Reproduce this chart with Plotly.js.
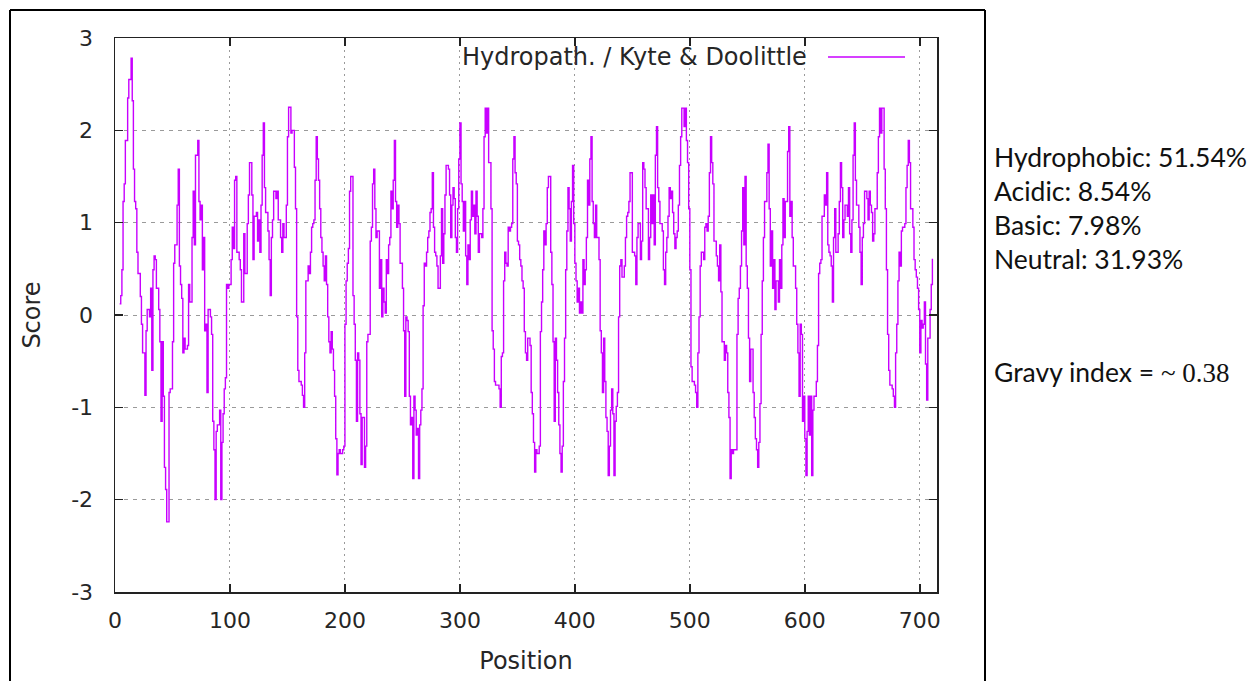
<!DOCTYPE html>
<html><head><meta charset="utf-8">
<script src="https://cdn.plot.ly/plotly-3.0.1.min.js"></script>
<style>html,body{margin:0;padding:0;background:#fff;}#chart{width:1250px;height:681px;}</style>
</head><body><div id="chart"></div>
<script>
// Residue positions and Kyte & Doolittle hydropathy scores
const position = [
4,5,6,7,8,9,11,12,14,15,16,17,18,19,20,22,23,24,26,27,28,30,31,32,33,34,35,36,38,39,40,41,42,43,44,45,47,48,50,51,52,54,55,56,57,58,59,60,61,63,64,65,67,68,69,70,72,73,74,75,76,77,78,
79,80,81,83,84,85,86,87,88,89,91,92,93,94,95,96,97,98,99,101,102,103,104,105,106,108,109,110,112,113,115,116,117,119,120,121,123,124,125,126,127,128,129,130,131,133,134,135,136,137,138,140,141,142,144,145,146,147,149,150,151,152,153,154,156,
157,158,159,160,162,163,164,165,166,168,169,170,171,172,173,174,175,176,177,178,179,180,181,182,183,184,185,186,187,188,189,190,191,192,193,194,195,196,198,199,200,201,202,203,204,205,207,208,209,210,211,212,213,214,215,217,218,219,220,222,223,224,225,226,227,228,230,231,
232,233,234,235,236,237,238,239,240,241,242,243,244,245,246,247,248,250,251,252,253,254,255,256,257,258,259,260,261,262,263,264,265,266,267,268,269,270,271,272,273,274,275,276,277,278,279,280,281,283,284,285,286,287,288,290,291,292,293,294,295,296,297,298,299,300,301,302,303,304,305,306,307,308,309,310,
311,312,313,314,315,316,317,319,320,321,322,323,324,325,327,328,329,330,331,333,334,335,336,337,338,339,340,341,342,343,344,345,346,347,348,349,350,351,352,353,354,355,356,357,358,359,361,362,363,364,365,366,367,368,369,370,371,372,373,374,375,376,377,379,380,381,382,383,384,385,386,387,388,389,390,391,
392,393,394,395,396,397,398,399,400,401,402,403,404,405,406,407,408,409,410,411,412,413,414,415,416,417,418,419,421,422,423,424,425,426,427,428,429,430,431,432,433,434,435,436,437,438,439,440,441,443,444,445,446,447,448,450,451,452,453,454,455,457,458,459,460,461,462,464,465,466,467,468,469,470,471,
472,473,474,476,477,478,479,480,481,482,483,484,485,486,487,488,489,490,491,492,493,494,495,496,497,498,499,500,501,502,504,505,506,507,508,509,510,512,513,514,515,516,517,518,519,520,521,523,524,525,526,527,528,530,531,532,533,534,535,536,537,538,539,541,542,543,544,
545,546,547,548,549,550,551,552,553,555,556,557,558,559,560,561,562,563,564,565,567,568,569,570,571,572,573,574,575,577,578,579,580,581,582,583,585,586,587,588,589,590,592,593,594,595,596,597,598,599,600,601,602,603,604,605,606,607,608,610,611,612,613,614,615,617,618,619,620,621,622,
623,624,625,626,627,629,630,631,632,633,634,635,637,638,639,640,641,642,643,644,645,647,648,649,650,651,652,654,655,656,657,658,659,660,661,663,664,665,666,667,669,670,671,672,673,674,676,677,678,679,680,681,682,683,684,685,687,688,689,690,691,692,694,695,696,697,698,699,700,701,702,703,704,705,706,707,709,710,711
];
const score = [
0.12,0.21,0.49,1.23,1.42,1.89,2.35,2.55,2.78,2.32,1.58,1.23,1.15,0.68,0.45,0.2,-0.1,-0.41,-0.87,-0.17,0.06,-0.02,0.29,-0.6,0.49,0.64,0.6,0.29,0.06,-0.29,-1.15,-0.29,-0.88,-1.65,-1.89,-2.24,-0.84,-0.8,-0.29,0.56,0.76,1.19,1.58,0.53,0.33,0.18,-0.41,-0.25,-0.37,-0.33,0.33,0.14,0.84,1.34,0.76,1.73,1.89,1.23,1.03,1.19,0.49,0.84,-0.17,
-0.1,-0.84,0.06,-0.02,-0.21,-1.15,-1.46,-2.0,-1.26,-1.19,-1.03,-2.0,-1.38,-1.07,-0.8,-0.68,0.33,0.29,0.33,0.6,0.95,0.72,1.46,1.5,0.68,0.6,0.49,0.14,0.88,0.45,0.99,1.3,1.65,1.3,0.6,1.07,1.11,0.8,1.03,0.68,1.19,1.73,2.08,1.38,1.11,0.91,0.6,0.21,0.84,1.03,1.34,1.26,1.34,1.03,0.84,0.68,0.99,0.84,1.19,1.93,2.25,2.25,1.97,2.0,1.6,
1.15,-0.02,-0.6,-0.72,-0.76,-0.87,-1.0,-0.41,0.37,0.53,0.45,0.68,0.95,0.99,1.03,1.46,1.93,1.69,1.46,1.15,0.84,0.68,0.53,0.37,0.64,0.33,-0.02,-0.29,-0.41,-0.18,-0.37,-0.6,-0.88,-1.34,-1.73,-1.5,-1.46,-1.5,-1.46,-1.42,-0.1,0.37,0.56,0.72,1.34,1.5,0.21,-0.1,-0.49,-1.15,-0.41,-0.49,-1.07,-1.62,-1.11,-1.65,-1.42,-0.29,-0.21,0.8,0.95,1.42,1.58,1.15,0.84,0.91,0.29,0.6,
-0.02,0.29,0.14,0.02,0.6,0.45,0.76,0.84,1.34,1.15,1.46,1.89,1.23,0.95,1.19,0.99,0.56,0.29,-0.17,-0.88,-0.02,-0.06,-0.18,-0.88,-1.19,-1.11,-1.77,-0.88,-1.03,-1.3,-1.23,-1.77,-1.19,-1.03,-0.8,0.1,0.56,0.53,0.68,0.84,0.91,1.11,1.15,1.54,0.95,0.68,0.64,0.53,0.29,0.64,1.15,0.56,0.88,1.3,1.62,1.58,1.3,0.84,1.19,1.38,1.26,0.84,0.68,1.15,1.69,2.08,1.42,1.23,0.91,1.23,0.64,0.33,0.76,0.6,1.03,1.34,
1.07,1.19,0.88,1.34,1.07,0.68,0.88,0.84,1.15,1.93,2.24,1.97,2.24,1.65,1.15,-0.17,-0.37,-0.72,-0.76,-0.76,-0.8,-1.0,-0.45,-0.41,0.37,0.68,0.56,0.53,0.95,0.91,0.95,0.99,1.69,1.93,1.54,1.42,0.8,0.76,0.6,0.53,0.37,0.29,-0.18,-0.41,-0.49,-0.25,-0.33,-0.84,-1.07,-1.38,-1.7,-1.46,-1.5,-1.5,-1.42,-0.18,0.14,0.49,0.91,0.76,0.99,1.38,1.5,0.68,0.33,-0.29,-1.15,-0.25,-0.49,-0.84,-1.19,-1.5,-1.7,-1.42,-0.72,-0.25,
0.49,0.91,1.38,1.15,0.8,1.23,1.62,0.99,0.56,0.37,0.14,0.29,0.02,0.14,0.02,0.6,0.33,0.49,0.84,1.46,1.19,1.69,1.93,1.23,0.99,0.84,1.19,0.84,0.6,-0.17,-0.41,-0.84,-0.25,-0.72,-1.11,-1.26,-1.74,-1.42,-1.03,-0.8,-1.07,-1.74,-1.15,-0.99,-0.84,-0.02,0.53,0.6,0.41,0.53,0.84,1.07,1.11,1.23,1.54,0.68,0.68,0.64,0.33,0.84,0.99,0.6,0.8,1.65,1.58,1.38,1.15,0.6,0.84,1.3,0.99,1.3,0.76,1.73,2.04,
1.38,1.23,0.99,0.91,0.49,0.33,0.68,0.84,1.07,1.38,1.26,1.34,1.11,0.88,0.72,0.84,0.91,1.19,1.62,1.93,2.24,2.24,2.04,2.24,1.89,1.65,1.15,0.49,-0.56,-0.72,-0.76,-0.84,-1.0,-0.41,-0.02,0.53,0.68,0.6,0.95,0.99,0.91,1.07,1.54,1.93,1.65,1.42,0.8,0.64,0.53,0.37,0.76,0.25,-0.29,-0.49,-0.33,-0.41,-0.84,-1.11,-1.77,-1.46,-1.5,-1.46,-1.46,-0.21,0.18,0.29,0.53,
0.91,1.38,0.76,1.5,0.53,0.29,-0.25,-0.72,-0.37,-0.84,-1.11,-1.34,-1.46,-1.65,-1.38,-0.96,-0.21,0.37,0.84,1.23,1.54,1.85,1.15,0.53,0.91,0.29,0.6,0.06,0.37,0.14,0.6,0.29,0.76,1.26,0.84,1.23,1.77,2.04,1.07,1.23,0.84,0.53,0.29,-0.1,-0.41,-0.88,-0.1,-0.21,-1.15,-0.88,-1.34,-1.74,-1.26,-0.88,-1.3,-0.88,-1.74,-1.03,-0.88,-0.72,-0.33,0.45,0.56,0.6,1.07,1.3,1.19,1.54,0.76,0.68,0.64,
0.53,0.14,0.84,1.15,0.68,0.88,1.23,1.65,1.38,0.84,1.03,1.19,1.07,1.38,0.88,0.68,1.03,1.73,2.08,1.46,1.19,0.95,0.68,0.33,0.84,0.99,1.34,1.26,1.03,1.34,1.19,1.11,0.8,0.88,1.15,1.54,1.93,2.24,1.97,2.24,1.58,1.15,0.49,-0.21,-0.6,-0.76,-0.8,-0.88,-1.0,-0.41,-0.1,0.37,0.68,0.53,0.91,0.95,0.99,1.38,1.62,1.89,1.65,1.15,0.95,0.6,0.49,0.41,0.29,0.06,-0.41,-0.06,-0.14,-0.1,0.14,-0.53,-0.92,-0.25,0.06,0.33,0.61
];
const xTicks = [0,100,200,300,400,500,600,700];
const yTicks = [-3,-2,-1,0,1,2,3];
const seriesName = 'Hydropath. / Kyte & Doolittle';
const xTitle = 'Position';
const yTitle = 'Score';
const statLines = ['Hydrophobic: 51.54%','Acidic: 8.54%','Basic: 7.98%','Neutral: 31.93%'];
const gravyLabel = 'Gravy index = ';
const gravyValue = '~ 0.38';

// pixel helpers for decorations (plot area box in page pixels)
const L = 115, R = 937, T = 38, B = 592;
const px = v => (v - L) / (R - L);
const py = v => (B - v) / (B - T);
const lineColor = '#c800ff';
const axisFont = {family: 'DejaVu Sans, sans-serif', size: 22, color: '#262626'};
const titleFont = {family: 'DejaVu Sans, sans-serif', size: 24, color: '#262626'};
const sideFont = {family: 'Lato, sans-serif', size: 26.5, color: '#111'};

const trace = {
  x: position, y: score, type: 'scatter', mode: 'lines', name: seriesName,
  line: {color: lineColor, width: 1.4, shape: 'hv'}, showlegend: false, hoverinfo: 'skip'
};

const annotations = [
  {xref: 'paper', yref: 'paper', x: px(809), y: py(57), xanchor: 'right', yanchor: 'middle',
   text: seriesName, showarrow: false, font: titleFont},
];
const statY = [157, 191, 225, 259];
statLines.forEach((t, i) => annotations.push({
  xref: 'paper', yref: 'paper', x: px(992), y: py(statY[i]), xanchor: 'left', yanchor: 'middle',
  text: t, showarrow: false, font: sideFont
}));
annotations.push({
  xref: 'paper', yref: 'paper', x: px(992), y: py(372), xanchor: 'left', yanchor: 'middle',
  text: gravyLabel + '<span style="font-family:Liberation Serif, serif;font-size:27px">' + gravyValue + '</span>',
  showarrow: false, font: sideFont
});

const shapes = [
  // legend box background hides grid
  {type: 'rect', layer: 'between', xref: 'paper', yref: 'paper', x0: px(447), x1: px(914), y0: py(72), y1: py(45),
   fillcolor: '#ffffff', line: {width: 0}},
  // legend sample line
  {type: 'line', xref: 'paper', yref: 'paper', x0: px(828), x1: px(905), y0: py(57), y1: py(57),
   line: {color: lineColor, width: 1.5}},
  // outer figure frame
  {type: 'line', xref: 'paper', yref: 'paper', x0: px(10), x1: px(10), y0: py(10), y1: py(690), line: {color: '#000', width: 2}},
  {type: 'line', xref: 'paper', yref: 'paper', x0: px(10), x1: px(985), y0: py(10), y1: py(10), line: {color: '#000', width: 2}},
  {type: 'line', xref: 'paper', yref: 'paper', x0: px(985), x1: px(985), y0: py(10), y1: py(690), line: {color: '#000', width: 2}}
];

const layout = {
  width: 1250, height: 681,
  margin: {l: L, r: 1250 - R, t: T, b: 681 - B, pad: 0},
  paper_bgcolor: '#fff', plot_bgcolor: '#fff',
  showlegend: false,
  xaxis: {
    range: [0, 715], tickvals: xTicks, ticktext: xTicks.map(String),
    ticks: 'inside', ticklen: 8, tickwidth: 1.5, tickcolor: '#222',
    showline: true, linecolor: '#222', linewidth: 1.5, mirror: 'ticks',
    showgrid: true, gridcolor: '#9a9a9a', gridwidth: 1, griddash: '2px,4px',
    zeroline: false, tickfont: axisFont, ticklabelstandoff: 8,
    title: {text: xTitle, font: titleFont, standoff: 20}
  },
  yaxis: {
    range: [-3, 3], tickvals: yTicks, ticktext: yTicks.map(String),
    ticks: 'inside', ticklen: 8, tickwidth: 1.5, tickcolor: '#222',
    showline: true, linecolor: '#222', linewidth: 1.5, mirror: 'ticks',
    showgrid: true, gridcolor: '#9a9a9a', gridwidth: 1, griddash: '4px,5px',
    zeroline: false, tickfont: axisFont, ticklabelstandoff: 16,
    title: {text: yTitle, font: titleFont, standoff: 24}
  },
  annotations: annotations,
  shapes: shapes
};

Plotly.newPlot('chart', [trace], layout, {displayModeBar: false, staticPlot: true});
</script>
</body></html>
